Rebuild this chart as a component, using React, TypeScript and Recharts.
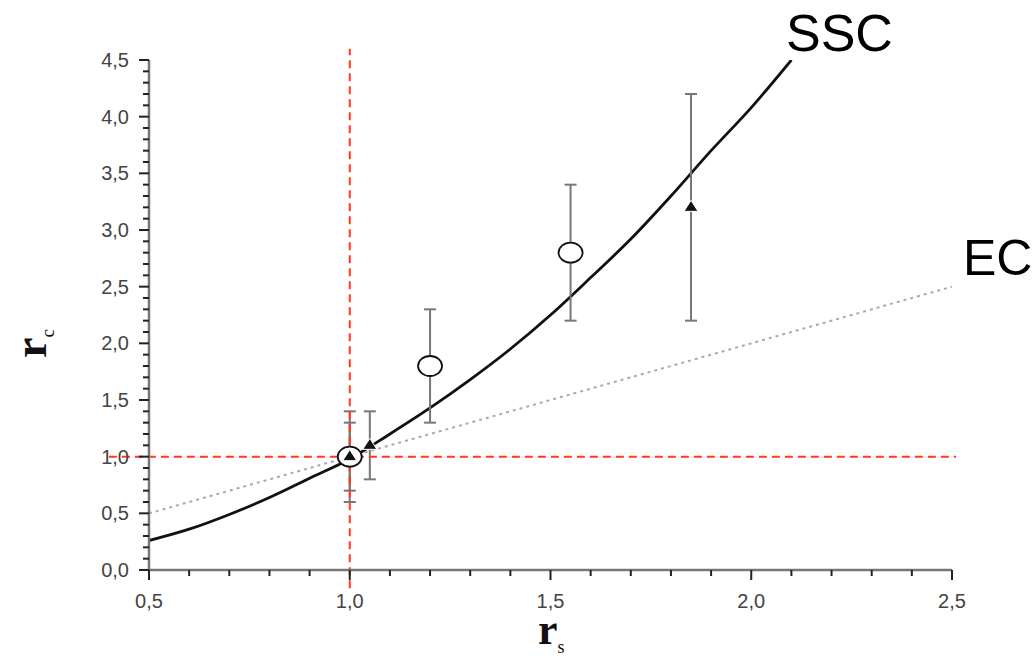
import {
  ComposedChart,
  Line,
  Scatter,
  ErrorBar,
  XAxis,
  YAxis,
  ReferenceLine,
} from 'recharts';

// SSC curve
const sscX = [0.5, 0.6, 0.7, 0.8, 0.9, 1.0, 1.1, 1.2, 1.3, 1.4, 1.5, 1.6, 1.7, 1.8, 1.9, 2.0, 2.1];
const sscY = [0.26, 0.36, 0.49, 0.64, 0.81, 0.98, 1.2, 1.43, 1.68, 1.95, 2.25, 2.58, 2.92, 3.3, 3.7, 4.08, 4.5];

// EC line (dotted)
const ecX = [0.5, 2.5];
const ecY = [0.5, 2.5];

// open circles
const circleX = [1.0, 1.2, 1.55];
const circleY = [1.0, 1.8, 2.8];
const circleErr = [0.4, 0.5, 0.6];

// filled triangles
const triX = [1.0, 1.05, 1.85];
const triY = [1.0, 1.1, 3.2];
const triErr = [0.3, 0.3, 1.0];

const xTicks = [0.5, 0.6, 0.7, 0.8, 0.9, 1.0, 1.1, 1.2, 1.3, 1.4, 1.5, 1.6, 1.7, 1.8, 1.9, 2.0, 2.1, 2.2, 2.3, 2.4, 2.5];
const yTicks = [
  0, 0.1, 0.2, 0.3, 0.4, 0.5, 0.6, 0.7, 0.8, 0.9, 1.0, 1.1, 1.2, 1.3, 1.4, 1.5, 1.6, 1.7, 1.8, 1.9,
  2.0, 2.1, 2.2, 2.3, 2.4, 2.5, 2.6, 2.7, 2.8, 2.9, 3.0, 3.1, 3.2, 3.3, 3.4, 3.5, 3.6, 3.7, 3.8, 3.9,
  4.0, 4.1, 4.2, 4.3, 4.4, 4.5,
];

const sscData = sscX.map((x, i) => ({ x, y: sscY[i] }));
const ecData = ecX.map((x, i) => ({ x, y: ecY[i] }));
const circleData = circleX.map((x, i) => ({ x, y: circleY[i], err: circleErr[i] }));
const triData = triX.map((x, i) => ({ x, y: triY[i], err: triErr[i] }));

const isMajor = (v: number) => Math.abs(v * 2 - Math.round(v * 2)) < 1e-6;
const fmt = (v: number) => v.toFixed(1).replace('.', ',');

const TICK_FONT = 'Liberation Sans, Arial, sans-serif';
const SERIF = 'Liberation Serif, Times New Roman, serif';
const RED = '#ff3b1a';

const XTick = (props: any) => {
  const { x, y, payload } = props;
  const major = isMajor(payload.value);
  return (
    <g>
      <line x1={x} x2={x} y1={y} y2={y + (major ? 10 : 6)} stroke="#222" strokeWidth={2} />
      {major && (
        <text x={x} y={y + 38} textAnchor="middle" fontSize={20} fill="#444" fontFamily={TICK_FONT}>
          {fmt(payload.value)}
        </text>
      )}
    </g>
  );
};

const YTick = (props: any) => {
  const { x, y, payload } = props;
  const major = isMajor(payload.value);
  return (
    <g>
      <line x1={x} x2={x - (major ? 10 : 6)} y1={y} y2={y} stroke="#222" strokeWidth={2} />
      {major && (
        <text x={x - 20} y={y + 7} textAnchor="end" fontSize={20} fill="#444" fontFamily={TICK_FONT}>
          {fmt(payload.value)}
        </text>
      )}
    </g>
  );
};

const Circle = (props: any) => {
  const { cx, cy } = props;
  return <ellipse cx={cx} cy={cy} rx={12} ry={10} fill="#fff" stroke="#111" strokeWidth={1.8} />;
};

const Triangle = (props: any) => {
  const { cx, cy } = props;
  return (
    <path
      d={`M${cx - 7},${cy + 4} L${cx + 7},${cy + 4} L${cx},${cy - 7} Z`}
      fill="#111"
      stroke="#fff"
      strokeWidth={1}
    />
  );
};

export default function App() {
  return (
    <div style={{ position: 'absolute', left: 0, top: 0, width: 1032, height: 658, background: '#fff' }}>
      <ComposedChart
        width={1032}
        height={658}
        margin={{ top: 60, right: 80, bottom: 48, left: 89 }}
      >
        <XAxis
          type="number"
          dataKey="x"
          domain={[0.5, 2.5]}
          ticks={xTicks}
          allowDataOverflow
          height={40}
          tickSize={0}
          tickMargin={0}
          tickLine={false}
          axisLine={{ stroke: '#777', strokeWidth: 2.5 }}
          tick={<XTick />}
          interval={0}
        />
        <YAxis
          type="number"
          dataKey="y"
          domain={[0, 4.5]}
          ticks={yTicks}
          allowDataOverflow
          width={60}
          tickSize={0}
          tickMargin={0}
          tickLine={false}
          axisLine={{ stroke: '#777', strokeWidth: 2.5 }}
          tick={<YTick />}
          interval={0}
        />
        <Line
          data={ecData}
          dataKey="y"
          type="linear"
          stroke="#aaa"
          strokeWidth={2}
          strokeDasharray="3 4"
          dot={false}
          isAnimationActive={false}
        />
        <Line
          data={sscData}
          dataKey="y"
          type="monotone"
          stroke="#111"
          strokeWidth={2.8}
          dot={false}
          isAnimationActive={false}
        />
        <Scatter data={circleData} dataKey="y" shape={<Circle />} isAnimationActive={false}>
          <ErrorBar dataKey="err" direction="y" width={6} stroke="#777" strokeWidth={2} />
        </Scatter>
        <Scatter data={triData} dataKey="y" shape={<Triangle />} isAnimationActive={false}>
          <ErrorBar dataKey="err" direction="y" width={6} stroke="#777" strokeWidth={2} />
        </Scatter>
        <ReferenceLine
          segment={[{ x: 1.0, y: -0.16 }, { x: 1.0, y: 4.6 }]}
          stroke={RED}
          strokeWidth={2}
          strokeDasharray="8 5"
          ifOverflow="visible"
        />
        <ReferenceLine
          segment={[{ x: 0.4, y: 1.0 }, { x: 2.51, y: 1.0 }]}
          stroke={RED}
          strokeWidth={2}
          strokeDasharray="8 5"
          ifOverflow="visible"
        />
        <text x={786} y={51} fontSize={52} fontFamily={TICK_FONT} fill="#000">SSC</text>
        <text x={963} y={275} fontSize={50} fontFamily={TICK_FONT} fill="#000">EC</text>
        <text x={538} y={644} fontSize={44} fontWeight="bold" fontFamily={SERIF} fill="#111">
          r<tspan dy={9} fontSize={18} fontWeight="normal">s</tspan>
        </text>
        <text
          transform="translate(46, 358) rotate(-90)"
          fontSize={46}
          fontWeight="bold"
          fontFamily={SERIF}
          fill="#111"
        >
          r<tspan dy={8} fontSize={19} fontWeight="normal">c</tspan>
        </text>
      </ComposedChart>
    </div>
  );
}
